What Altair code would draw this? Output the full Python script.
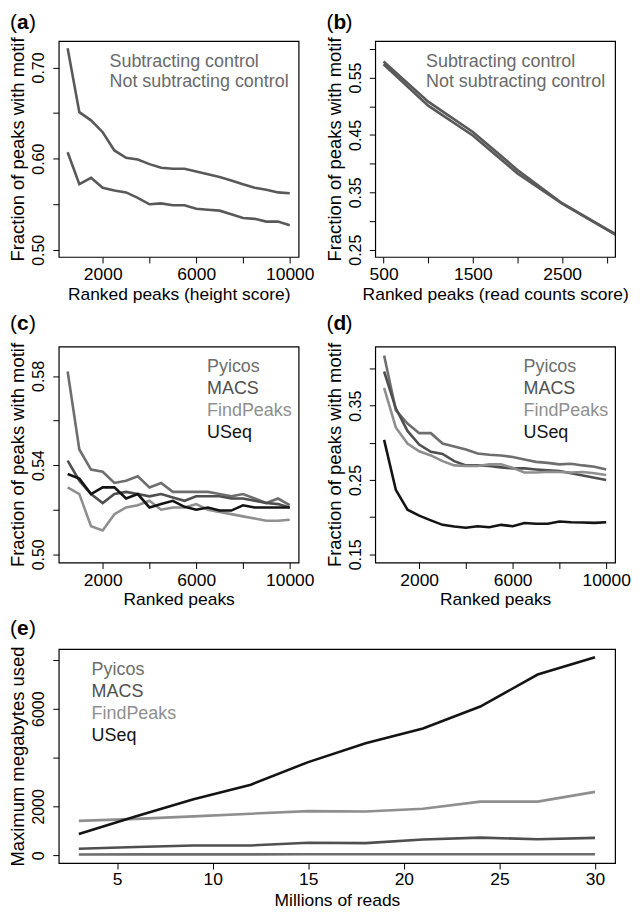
import altair as alt
import pandas as pd

FONT = "Liberation Sans"

# ---------------- data ----------------
rank_x = [500, 1000, 1500, 2000, 2500, 3000, 3500, 4000, 4500, 5000,
          5500, 6000, 6500, 7000, 7500, 8000, 8500, 9000, 9500, 10000]

a_sub = [0.721, 0.651, 0.642, 0.629, 0.609, 0.601, 0.599, 0.594, 0.590, 0.589,
         0.589, 0.586, 0.583, 0.580, 0.576, 0.572, 0.568, 0.566, 0.563, 0.562]
a_not = [0.607, 0.572, 0.579, 0.568, 0.565, 0.563, 0.557, 0.550, 0.551, 0.549,
         0.549, 0.545, 0.544, 0.543, 0.539, 0.535, 0.534, 0.531, 0.531, 0.527]

b_x = [500, 1000, 1500, 2000, 2500, 3000, 3100]
b_sub = [0.578, 0.508, 0.455, 0.389, 0.331, 0.286, 0.277]
b_not = [0.573, 0.501, 0.449, 0.383, 0.330, 0.285, 0.276]

c_pyicos = [0.582, 0.547, 0.538, 0.537, 0.532, 0.533, 0.535, 0.530, 0.532, 0.528,
            0.528, 0.528, 0.528, 0.527, 0.526, 0.527, 0.525, 0.523, 0.525, 0.522]
c_macs = [0.542, 0.533, 0.527, 0.523, 0.527, 0.528, 0.527, 0.526, 0.527, 0.5255,
          0.524, 0.526, 0.526, 0.526, 0.525, 0.525, 0.524, 0.523, 0.5225, 0.521]
c_findpeaks = [0.530, 0.527, 0.5126, 0.5107, 0.518, 0.521, 0.522, 0.524, 0.520, 0.521,
               0.521, 0.5225, 0.520, 0.519, 0.518, 0.517, 0.516, 0.515, 0.515, 0.5155]
c_useq = [0.536, 0.534, 0.527, 0.530, 0.530, 0.525, 0.527, 0.521, 0.5225, 0.524,
          0.5213, 0.520, 0.521, 0.5196, 0.5196, 0.522, 0.521, 0.521, 0.521, 0.521]

d_pyicos = [0.4176, 0.344, 0.326, 0.313, 0.313, 0.299, 0.295, 0.291, 0.2856, 0.284,
            0.283, 0.281, 0.2776, 0.2744, 0.273, 0.271, 0.2718, 0.2696, 0.2678, 0.2642]
d_macs = [0.396, 0.3464, 0.316, 0.2976, 0.288, 0.285, 0.2753, 0.2696, 0.2696, 0.2687,
          0.267, 0.2656, 0.2656, 0.2642, 0.263, 0.262, 0.259, 0.256, 0.253, 0.250]
d_findpeaks = [0.374, 0.3207, 0.299, 0.2887, 0.283, 0.2753, 0.2696, 0.2687, 0.2687, 0.271,
               0.271, 0.2664, 0.260, 0.260, 0.261, 0.2607, 0.260, 0.2607, 0.259, 0.2567]
d_useq = [0.304, 0.2367, 0.210, 0.202, 0.1956, 0.1896, 0.1874, 0.1856, 0.1878, 0.1864,
          0.1896, 0.1878, 0.192, 0.191, 0.191, 0.194, 0.193, 0.1927, 0.1922, 0.193]

e_x = [3, 6, 9, 12, 15, 18, 21, 24, 27, 30]
e_pyicos = [30, 35, 35, 35, 38, 38, 40, 40, 40, 40]
e_macs = [268, 334, 401, 401, 508, 495, 642, 722, 655, 709]
e_findpeaks = [1405, 1490, 1590, 1700, 1806, 1793, 1900, 2194, 2194, 2595]
e_useq = [870, 1600, 2288, 2890, 3813, 4589, 5191, 6087, 7398, 8107]

ctrl_names = ["Subtracting control", "Not subtracting control"]
tool_names = ["Pyicos", "MACS", "FindPeaks", "USeq"]

CTRL_LINE = ["#595959", "#595959"]
CTRL_TEXT = ["#6a6a6a", "#6a6a6a"]
TOOL_COL = ["#6e6e6e", "#4f4f4f", "#8f8f8f", "#141414"]


def long_df(xs, series, names):
    rows = []
    for name, ys in zip(names, series):
        for xv, yv in zip(xs, ys):
            rows.append({"x": xv, "y": yv, "name": name})
    return pd.DataFrame(rows)


def label_expr(show, mult):
    lst = ",".join(str(int(round(v * mult))) for v in show)
    return f"indexof([{lst}], round(datum.value*{mult})) >= 0 ? datum.label : ''"


def panel(df, names, line_cols, text_cols, xdom, ydom, xvals, xshow, yvals, yshow,
          yfmt, ymult, xtitle, ytitle, w, h, leg_x, leg_y0, leg_dy, letter, letter_y,
          x_lab_pad=3, x_title_pad=2):
    cscale = alt.Scale(domain=names, range=line_cols)
    lines = alt.Chart(df).mark_line(strokeWidth=2.6, clip=True).encode(
        x=alt.X("x:Q", scale=alt.Scale(domain=xdom, nice=False, zero=False),
                axis=alt.Axis(values=xvals, labelExpr=label_expr(xshow, 1), format="d",
                              title=xtitle, labelFontSize=17.5, titleFontSize=17.5,
                              labelPadding=x_lab_pad, titlePadding=x_title_pad,
                              labelFlush=False, labelOverlap=False)),
        y=alt.Y("y:Q", scale=alt.Scale(domain=ydom, nice=False, zero=False),
                axis=alt.Axis(values=yvals, labelExpr=label_expr(yshow, ymult), format=yfmt,
                              title=ytitle, labelFontSize=16, titleFontSize=18.5,
                              labelAngle=-90, labelAlign="center", labelBaseline="bottom",
                              labelPadding=6, titlePadding=3, labelOverlap=False,
                              labelFlush=False)),
        color=alt.Color("name:N", scale=cscale, legend=None),
    )
    leg_df = pd.DataFrame({"name": names, "i": list(range(len(names)))})
    n = len(names)
    tscale = alt.Scale(domain=names, range=text_cols)
    legend = alt.Chart(leg_df).mark_text(align="left", baseline="middle", fontSize=18,
                                         font=FONT).encode(
        x=alt.value(leg_x),
        y=alt.Y("i:Q", scale=alt.Scale(domain=[0, n - 1],
                                        range=[leg_y0, leg_y0 + (n - 1) * leg_dy]),
                axis=None),
        text="name:N",
        color=alt.Color("name:N", scale=tscale, legend=None),
    )
    lp = alt.Chart(pd.DataFrame({"t": ["("]})).mark_text(
        align="left", baseline="middle", fontSize=21, font=FONT, color="black").encode(
        x=alt.value(-49), y=alt.value(letter_y), text="t:N")
    ll = alt.Chart(pd.DataFrame({"t": [letter]})).mark_text(
        align="left", baseline="middle", fontSize=21, font=FONT, fontWeight="bold",
        color="black").encode(x=alt.value(-42), y=alt.value(letter_y), text="t:N")
    rp = alt.Chart(pd.DataFrame({"t": [")"]})).mark_text(
        align="left", baseline="middle", fontSize=21, font=FONT, color="black").encode(
        x=alt.value(-30), y=alt.value(letter_y), text="t:N")
    return alt.layer(lines, legend, lp, ll, rp).resolve_scale(
        y="independent", color="independent").properties(width=w, height=h)


YT = "Fraction of peaks with motif"
W = 241

pa = panel(long_df(rank_x, [a_sub, a_not], ctrl_names), ctrl_names, CTRL_LINE, CTRL_TEXT,
           [120, 10380], [0.4922, 0.729], [2000, 4000, 6000, 8000, 10000], [2000, 6000, 10000],
           [0.5, 0.55, 0.6, 0.65, 0.7], [0.5, 0.6, 0.7], ".2f", 100,
           "Ranked peaks (height score)", YT, W, 217, 51, 21, 20.7, "a", -18.3)

pb = panel(long_df(b_x, [b_sub, b_not], ctrl_names), ctrl_names, CTRL_LINE, CTRL_TEXT,
           [407, 3093], [0.2373, 0.6136], [500, 1000, 1500, 2000, 2500, 3000], [500, 1500, 2500],
           [0.25, 0.3, 0.35, 0.4, 0.45, 0.5, 0.55, 0.6], [0.25, 0.35, 0.45, 0.55], ".2f", 100,
           "Ranked peaks (read counts score)", YT, W, 217, 51, 21, 20.7, "b", -18.3)

pc = panel(long_df(rank_x, [c_pyicos, c_macs, c_findpeaks, c_useq], tool_names), tool_names,
           TOOL_COL, TOOL_COL,
           [120, 10380], [0.4963, 0.5932], [2000, 4000, 6000, 8000, 10000], [2000, 6000, 10000],
           [0.5, 0.52, 0.54, 0.56, 0.58], [0.5, 0.54, 0.58], ".2f", 100,
           "Ranked peaks", YT, W, 217, 149, 20.6, 22.2, "c", -23)

pd_ = panel(long_df(rank_x, [d_pyicos, d_macs, d_findpeaks, d_useq], tool_names), tool_names,
            TOOL_COL, TOOL_COL,
            [120, 10380], [0.1389, 0.4296], [2000, 4000, 6000, 8000, 10000], [2000, 6000, 10000],
            [0.15, 0.2, 0.25, 0.3, 0.35, 0.4], [0.15, 0.25, 0.35], ".2f", 100,
            "Ranked peaks", YT, W, 217, 149, 20.6, 22.2, "d", -23)

pe = panel(long_df(e_x, [e_pyicos, e_macs, e_findpeaks, e_useq], tool_names), tool_names,
           TOOL_COL, TOOL_COL,
           [1.95, 31.05], [-321, 8441], [5, 10, 15, 20, 25, 30], [5, 10, 15, 20, 25, 30],
           [0, 2000, 4000, 6000, 8000], [0, 2000, 6000], "d", 1,
           "Millions of reads", "Maximum megabytes used", 559, 215, 33, 20.7, 22.2, "e", -20,
           x_lab_pad=2, x_title_pad=3)

chart = alt.vconcat(
    alt.hconcat(pa, pb, spacing=77, bounds="flush"),
    alt.hconcat(pc, pd_, spacing=77, bounds="flush"),
    pe,
    spacing=8,
).configure_view(stroke="black", strokeWidth=1.2).configure_axis(
    domain=False, grid=False, tickColor="black", tickSize=6, tickWidth=1,
    labelFont=FONT, titleFont=FONT, labelColor="black", titleColor="black",
    titleFontWeight="normal",
).properties(background="white", padding={"left": 0, "top": 1, "right": 0, "bottom": 0})

chart.save("out.html", embed_options={"renderer": "svg", "actions": False})
